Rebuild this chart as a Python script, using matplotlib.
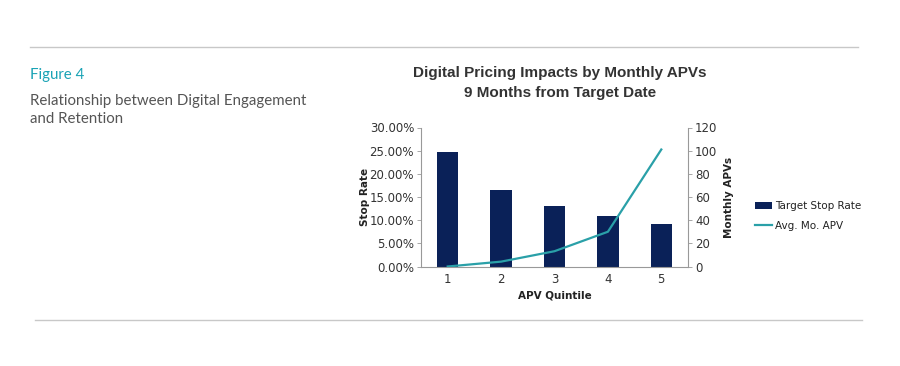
import matplotlib
matplotlib.use("Agg")
import matplotlib.pyplot as plt
from matplotlib.lines import Line2D
from matplotlib.patches import Patch

quintiles = [1, 2, 3, 4, 5]
stop_rate = [24.7, 16.5, 13.0, 10.9, 9.2]
avg_apv = [0.0, 4.2, 13.2, 30.0, 101.0]
left_ticks = [0, 5, 10, 15, 20, 25, 30]
right_ticks = [0, 20, 40, 60, 80, 100, 120]

W, H = 900, 366
fig = plt.figure(figsize=(9, 3.66), dpi=100)

def fx(px):
    return px / W

def fy(py):
    return 1 - py / H

# decorative rules
fig.add_artist(Line2D([fx(30), fx(858)], [fy(47), fy(47)], color="#c8c8c8", lw=1))
fig.add_artist(Line2D([fx(35), fx(862)], [fy(320), fy(320)], color="#c8c8c8", lw=1))

fig.text(fx(30), fy(75), "Figure 4", color="#1aa3b5", fontsize=10.8, family="Lato", va="center")
fig.text(fx(30), fy(101), "Relationship between Digital Engagement", color="#555555",
         fontsize=10.8, family="Lato", va="center")
fig.text(fx(30), fy(119), "and Retention", color="#555555", fontsize=10.8, family="Lato", va="center")

fig.text(fx(560), fy(73), "Digital Pricing Impacts by Monthly APVs", ha="center", va="center",
         fontsize=11, fontweight="bold", family="Liberation Sans", color="#333333")
fig.text(fx(560), fy(93), "9 Months from Target Date", ha="center", va="center",
         fontsize=11, fontweight="bold", family="Liberation Sans", color="#333333")

ax = fig.add_axes([fx(421), fy(266.5), fx(688 - 421), (266.5 - 127.5) / H])
bar_color = "#0a2158"
line_color = "#2aa0a8"
ax.bar(quintiles, stop_rate, width=0.4, color=bar_color, zorder=2)
ax.set_xlim(0.5, 5.5)
ax.set_ylim(0, 30)
ax.set_yticks(left_ticks)
ax.set_yticklabels([f"{v:.2f}%" for v in left_ticks])
ax.set_xticks(quintiles)
for s in ["top", "right"]:
    ax.spines[s].set_visible(False)
for s in ["left", "bottom"]:
    ax.spines[s].set_color("#999999")
    ax.spines[s].set_linewidth(0.8)
ax.tick_params(axis="y", colors="#999999", labelcolor="#333333", labelsize=8.5, length=3, width=0.6, pad=2)
ax.tick_params(axis="x", length=0, labelcolor="#333333", labelsize=8.5, pad=5)
for lab in ax.get_yticklabels() + ax.get_xticklabels():
    lab.set_family("DejaVu Sans")
ax.set_ylabel("Stop Rate", fontsize=7.5, fontweight="bold", color="#222222", labelpad=0)
ax.set_xlabel("APV Quintile", fontsize=7.5, fontweight="bold", color="#222222", labelpad=3)

ax2 = ax.twinx()
ax2.plot(quintiles, avg_apv, color=line_color, lw=1.6, zorder=3)
ax2.set_ylim(0, 120)
ax2.set_yticks(right_ticks)
for s in ["top", "left", "bottom"]:
    ax2.spines[s].set_visible(False)
ax2.spines["right"].set_color("#999999")
ax2.spines["right"].set_linewidth(0.8)
ax2.tick_params(axis="y", colors="#999999", labelcolor="#333333", labelsize=8.5, length=3, width=0.6, pad=2)
ax2.set_ylabel("Monthly APVs", fontsize=7.5, fontweight="bold", color="#222222", labelpad=5)

handles = [Patch(facecolor=bar_color, label="Target Stop Rate"),
           Line2D([0], [0], color=line_color, lw=1.6, label="Avg. Mo. APV")]
fig.legend(handles=handles, loc="center left", bbox_to_anchor=(fx(746), fy(216)),
           frameon=False, fontsize=7.5, handlelength=1.6, handleheight=0.6,
           labelspacing=0.9, handletextpad=0.3, labelcolor="#222222")

fig.savefig("out.png", dpi=100, facecolor="white")
